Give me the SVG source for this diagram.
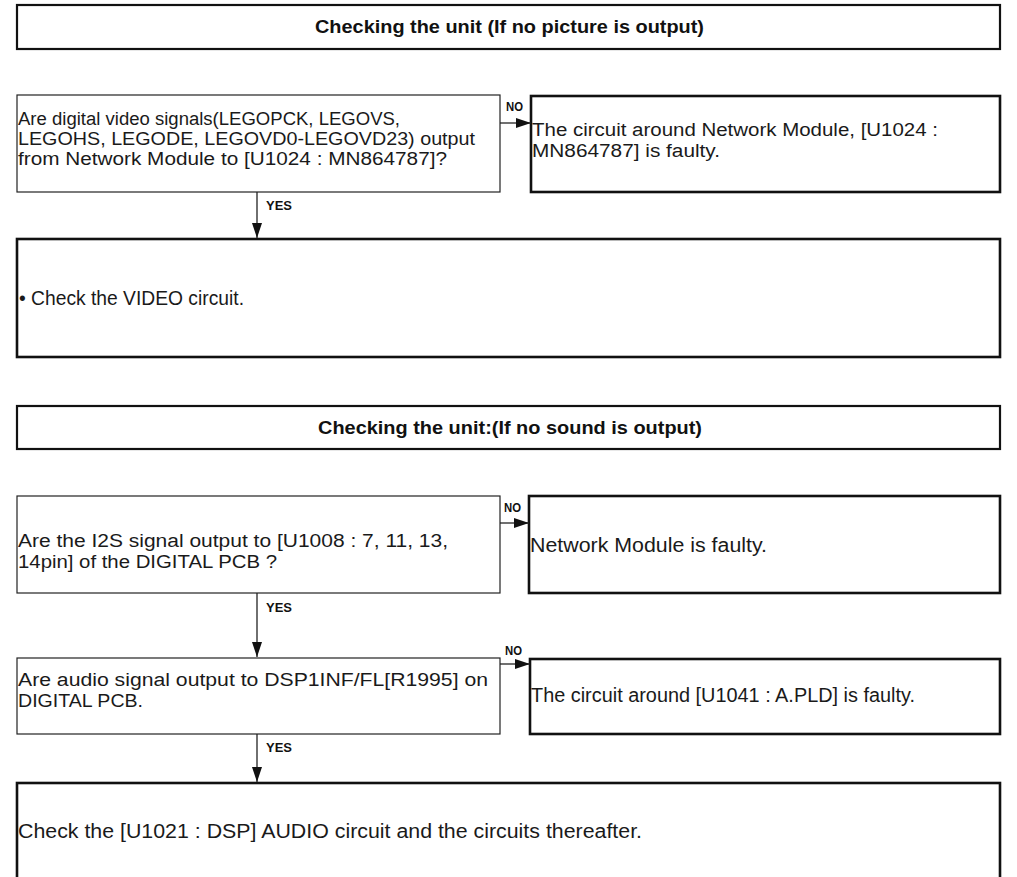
<svg xmlns="http://www.w3.org/2000/svg" width="1017" height="877" viewBox="0 0 1017 877">
<style>
.bg{fill:#fff}
.thin{fill:#fff;stroke:#222;stroke-width:1.2}
.thick{fill:#fff;stroke:#111;stroke-width:2.6}
.title{fill:#fff;stroke:#111;stroke-width:2.2}
.t{font-family:"Liberation Sans",Arial,sans-serif;font-size:20px;fill:#1a1a1a}
.m{font-family:"Liberation Sans",Arial,sans-serif;font-size:18px;fill:#1a1a1a}
.tb{font-family:"Liberation Sans",Arial,sans-serif;font-size:18px;font-weight:bold;fill:#111}
.lb{font-family:"Liberation Sans",Arial,sans-serif;font-size:13px;font-weight:bold;fill:#111}
.ln{stroke:#222;stroke-width:1.3;fill:none}
</style>
<defs>
<marker id="ah" markerUnits="userSpaceOnUse" markerWidth="16" markerHeight="12" refX="15" refY="5" orient="auto">
<path d="M0,0 L15,5 L0,10 Z" fill="#111"/>
</marker>
</defs>
<rect class="bg" x="0" y="0" width="1017" height="877"/>

<g id="title1">
<rect class="title" x="17" y="5" width="983" height="44"/>
<text class="tb" x="315" y="33" textLength="389" lengthAdjust="spacingAndGlyphs">Checking the unit (If no picture is output)</text>
</g>

<g id="q1">
<rect class="thin" x="17" y="95" width="483" height="97"/>
<text class="m"><tspan x="18" y="124.8" textLength="382" lengthAdjust="spacingAndGlyphs">Are digital video signals(LEGOPCK, LEGOVS,</tspan><tspan x="18" y="145" textLength="457" lengthAdjust="spacingAndGlyphs">LEGOHS, LEGODE, LEGOVD0-LEGOVD23) output</tspan><tspan x="18" y="165.2" textLength="429" lengthAdjust="spacingAndGlyphs">from Network Module to [U1024 : MN864787]?</tspan></text>
</g>

<g id="r1">
<rect class="thick" x="531" y="96" width="469" height="96"/>
<text class="m"><tspan x="532" y="136.4" textLength="406" lengthAdjust="spacingAndGlyphs">The circuit around Network Module, [U1024 :</tspan><tspan x="532" y="156.6" textLength="188" lengthAdjust="spacingAndGlyphs">MN864787] is faulty.</tspan></text>
</g>

<g id="b1">
<rect class="thick" x="17" y="239" width="983" height="118"/>
<text class="t" x="19" y="305" textLength="225" lengthAdjust="spacingAndGlyphs">• Check the VIDEO circuit.</text>
</g>

<g id="title2">
<rect class="title" x="17" y="406" width="983" height="43"/>
<text class="tb" x="318" y="434" textLength="384" lengthAdjust="spacingAndGlyphs">Checking the unit:(If no sound is output)</text>
</g>

<g id="q2">
<rect class="thin" x="17" y="496" width="483" height="97"/>
<text class="m"><tspan x="18" y="547.4" textLength="430" lengthAdjust="spacingAndGlyphs">Are the I2S signal output to [U1008 : 7, 11, 13,</tspan><tspan x="18" y="567.6" textLength="259" lengthAdjust="spacingAndGlyphs">14pin] of the DIGITAL PCB ?</tspan></text>
</g>

<g id="r2">
<rect class="thick" x="529" y="496" width="471" height="97"/>
<text class="t" x="530" y="552" textLength="237" lengthAdjust="spacingAndGlyphs">Network Module is faulty.</text>
</g>

<g id="q3">
<rect class="thin" x="17" y="658" width="483" height="76"/>
<text class="m"><tspan x="18" y="686.4" textLength="470" lengthAdjust="spacingAndGlyphs">Are audio signal output to DSP1INF/FL[R1995] on</tspan><tspan x="18" y="706.6" textLength="125" lengthAdjust="spacingAndGlyphs">DIGITAL PCB.</tspan></text>
</g>

<g id="r3">
<rect class="thick" x="530" y="659" width="470" height="75"/>
<text class="t" x="531" y="702" textLength="384" lengthAdjust="spacingAndGlyphs">The circuit around [U1041 : A.PLD] is faulty.</text>
</g>

<g id="b3">
<rect class="thick" x="17" y="783" width="983" height="110"/>
<text class="t" x="18" y="838" textLength="624" lengthAdjust="spacingAndGlyphs">Check the [U1021 : DSP] AUDIO circuit and the circuits thereafter.</text>
</g>

<g id="connectors">
<line class="ln" x1="500" y1="123" x2="531" y2="123" marker-end="url(#ah)"/>
<text class="lb" x="506" y="111" textLength="17" lengthAdjust="spacingAndGlyphs">NO</text>
<line class="ln" x1="257" y1="192" x2="257" y2="238" marker-end="url(#ah)"/>
<text class="lb" x="266" y="210" textLength="26" lengthAdjust="spacingAndGlyphs">YES</text>
<line class="ln" x1="500" y1="523" x2="529" y2="523" marker-end="url(#ah)"/>
<text class="lb" x="504" y="512" textLength="17" lengthAdjust="spacingAndGlyphs">NO</text>
<line class="ln" x1="257" y1="593" x2="257" y2="657" marker-end="url(#ah)"/>
<text class="lb" x="266" y="612" textLength="26" lengthAdjust="spacingAndGlyphs">YES</text>
<line class="ln" x1="500" y1="664" x2="530" y2="664" marker-end="url(#ah)"/>
<text class="lb" x="505" y="655" textLength="17" lengthAdjust="spacingAndGlyphs">NO</text>
<line class="ln" x1="257" y1="734" x2="257" y2="782" marker-end="url(#ah)"/>
<text class="lb" x="266" y="752" textLength="26" lengthAdjust="spacingAndGlyphs">YES</text>
</g>
</svg>
